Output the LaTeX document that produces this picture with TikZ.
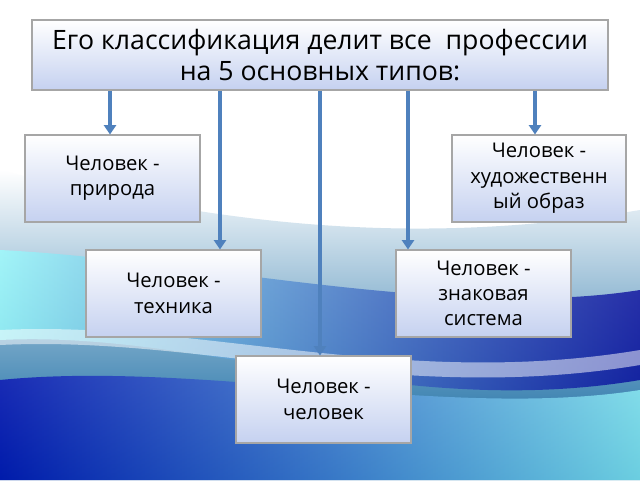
\documentclass[tikz,border=0pt]{standalone}
\usepackage{fontspec}
\setmainfont{Open Sans}
\usetikzlibrary{arrows.meta}
\definecolor{arr}{HTML}{4F81BD}
\definecolor{boxbot}{HTML}{C5D1F0}
\tikzset{
 box/.style={draw=gray!70, line width=0.8pt, top color=white, bottom color=boxbot, align=center, inner sep=0pt, font=\fontsize{15.2pt}{19pt}\selectfont},
 conn/.style={draw=arr, line width=3pt, -{Triangle[length=7pt,width=9pt]}}
}
\begin{document}
\begin{tikzpicture}[x=0.75pt,y=-0.75pt]
\useasboundingbox (0,0) rectangle (640,480);
% background swirl
\fill[white] (0,0) rectangle (640,480);
\shade[top color=white, bottom color=blue!40!cyan!60!black] (0,170) .. controls (200,220) and (400,250) .. (640,210) -- (640,480) -- (0,480) -- cycle;
\shade[left color=cyan!40, right color=blue!60!black, opacity=0.75] (0,250) .. controls (200,260) and (450,320) .. (640,290) -- (640,380) .. controls (400,420) and (200,330) .. (0,340) -- cycle;
\shade[left color=blue!70!black, right color=cyan!40, opacity=0.7] (0,380) .. controls (200,360) and (450,420) .. (640,390) -- (640,480) -- (0,480) -- cycle;
\fill[white, opacity=0.5] (0,330) .. controls (200,320) and (400,390) .. (640,350) -- (640,365) .. controls (400,405) and (200,335) .. (0,345) -- cycle;
% nodes
\node[box, minimum width=576*0.75pt, minimum height=70*0.75pt, font=\fontsize{20pt}{23pt}\selectfont] (top) at (320,55) {Его классификация делит все\ \ профессии\\на 5 основных типов:};
\node[box, minimum width=175*0.75pt, minimum height=87*0.75pt] (a) at (112.5,178.5) {Человек -\\природа};
\node[box, minimum width=174*0.75pt, minimum height=87*0.75pt] (b) at (539,178.5) {Человек -\\художественн\\ый образ};
\node[box, minimum width=175*0.75pt, minimum height=87*0.75pt] (c) at (173.5,293.5) {Человек -\\техника};
\node[box, minimum width=175*0.75pt, minimum height=87*0.75pt] (d) at (483.5,293.5) {Человек -\\знаковая\\система};
\node[box, minimum width=175*0.75pt, minimum height=87*0.75pt] (e) at (323.5,399.5) {Человек -\\человек};
% connectors
\draw[conn] (top.south -| 110,0) -- (a.north -| 110,0);
\draw[conn] (top.south -| 220,0) -- (c.north -| 220,0);
\draw[conn] (top.south -| 320,0) -- (e.north -| 320,0);
\draw[conn] (top.south -| 408,0) -- (d.north -| 408,0);
\draw[conn] (top.south -| 535,0) -- (b.north -| 535,0);
\end{tikzpicture}
\end{document}
